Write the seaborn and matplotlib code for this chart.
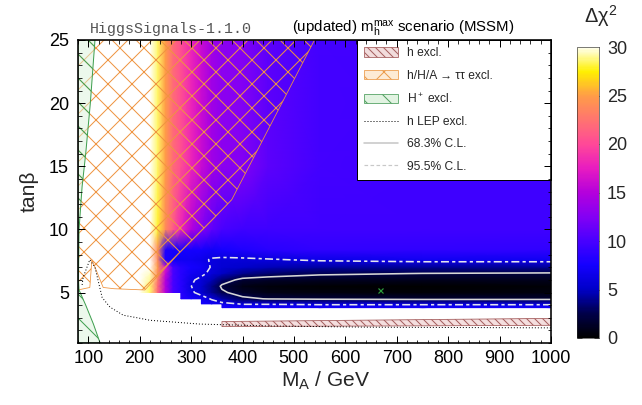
import numpy as np
import matplotlib
matplotlib.use("Agg")
import matplotlib.pyplot as plt
import matplotlib.patches as mpatches
from matplotlib.lines import Line2D
from matplotlib.ticker import MultipleLocator
import seaborn as sns

nan = np.nan
off = 45.0  # above the colour range (drawn white)

# scan grid: M_A (GeV) columns, tan(beta) rows
ma_grid = [80, 150, 200, 220, 235, 250, 265, 280, 300, 320, 340, 360, 400, 450, 550, 750, 1000]
tb_grid = [1.0, 3.5, 3.8, 4.1, 4.5, 5.0, 5.5, 6.0, 6.5, 7.0, 7.6, 8.4, 10.0, 15.0, 25.0]

# delta chi^2, one row per tan(beta)
chi2_rows = [
    [nan] * 17,
    [nan] * 17,
    [nan] * 11 + [7.5, 7.5, 7.5, 7.5, 7.5, 7.5],
    [nan] * 9 + [7.5, 7.0, 6.8, 6.0, 6.0, 5.8, 5.8, 5.8],
    [nan] * 7 + [8.5, 7.5, 7.0, 6.0, 4.5, 2.7, 2.2, 2.0, 1.8, 1.8],
    [off, off, off, 28.5, 22, 15, 10, 8.5, 6.5, 5.5, 4.0, 2.6, 1.5, 0.8, 0.5, 0.3, 0.5],
    [off, off, off, 28.5, 22, 15, 10, 8.5, 6.2, 5.5, 3.8, 2.0, 0.8, 0.4, 0.2, 0.0, 0.3],
    [off, off, off, 29, 23, 15, 10, 8.5, 6.4, 5.8, 4.8, 3.2, 1.8, 1.5, 1.2, 1.0, 1.0],
    [off, off, off, 29.5, 24, 16, 10, 8.5, 7.0, 6.5, 5.8, 5.0, 3.8, 3.2, 2.6, 2.25, 2.1],
    [off, off, off, 30.5, 25, 17, 10, 8.5, 7.5, 7.2, 6.0, 5.6, 5.2, 4.8, 4.3, 4.0, 4.0],
    [off, off, off, 32, 24, 8.0, 7.2, 7.0, 7.0, 6.6, 6.0, 5.8, 5.8, 6.0, 6.5, 7.0, 7.0],
    [off, off, off, 33, 24, 8.0, 7.5, 7.5, 7.5, 7.5, 7.2, 7.5, 8.0, 8.5, 8.8, 8.8, 8.8],
    [off, off, off, 31.5, 28, 24, 21, 18, 15, 12.5, 11, 10, 9.5, 9.5, 9.5, 9.5, 9.5],
    [off, off, 34, 31, 28.5, 25, 22, 20.5, 18, 16, 14, 13, 12.5, 10.8, 9.8, 9.5, 9.5],
    [off, off, 34, 31, 28.5, 25, 22, 20.5, 18, 16, 14, 13, 12.5, 10.8, 9.8, 9.5, 9.5],
]

# excluded regions (outlines)
tautau_ma = [80, 540, 460, 379, 340, 274, 210, 150, 129, 107, 103, 80]
tautau_tb = [25, 25, 18.7, 12.35, 10.7, 8.0, 5.2, 5.3, 5.4, 7.6, 5.4, 5.2]
hplus_ma = [80, 113, 104, 95, 88, 82, 81, 82, 95, 110, 123, 80]
hplus_tb = [25, 25, 20, 16, 13.4, 10, 6, 5.2, 4.0, 2.5, 1.0, 1.0]
hexcl_ma = [360, 1000, 1000, 360]
hexcl_tb = [2.3, 2.4, 2.95, 2.7]
lep_ma = [88, 90, 103, 113, 127, 142, 168, 195, 220, 317, 450, 650, 1000]
lep_tb = [5.6, 6.2, 7.6, 7.0, 4.6, 3.85, 3.2, 3.0, 2.8, 2.5, 2.35, 2.25, 2.2]
best_ma, best_tb = 667, 5.2

cl_levels = [2.30, 6.18]
cbar_ticks = [0, 5, 10, 15, 20, 25, 30]

sns.set_style("ticks")
plt.rcParams["font.family"] = ["Liberation Sans", "DejaVu Sans"]
plt.rcParams["mathtext.fontset"] = "custom"
plt.rcParams["mathtext.rm"] = "Liberation Sans"
plt.rcParams["mathtext.it"] = "Liberation Sans:italic"
plt.rcParams["hatch.linewidth"] = 1.0

palette = ["#000000", "#00004a", "#0000c8", "#1400ff", "#4800ff", "#8400f4", "#b400dc",
           "#e81cc0", "#ff4898", "#ff7470", "#ff9c48", "#fff000", "#fffff0"]
cmap = sns.blend_palette(palette, as_cmap=True).with_extremes(over="white", bad="white")

fig = plt.figure(figsize=(642 / 72, 405 / 72), dpi=72)
ax = fig.add_axes([78 / 642, 1 - 343 / 405, 473 / 642, 303 / 405])
cax = fig.add_axes([577 / 642, 1 - 338 / 405, 22 / 642, 291 / 405])

MA, TB = np.meshgrid(ma_grid, tb_grid)
chi2 = np.ma.masked_invalid(np.array(chi2_rows, dtype=float))

mesh = ax.pcolormesh(MA, TB, chi2, cmap=cmap, vmin=0, vmax=30, shading="gouraud", zorder=1)
ax.contour(MA, TB, chi2, levels=[cl_levels[0]], colors="#d6d6d6", linewidths=1.6, zorder=2)
ax.contour(MA, TB, chi2, levels=[cl_levels[1]], colors="#e4e4ee", linewidths=1.6,
           linestyles=[(0, (5, 2, 2, 2))], zorder=2)

ax.fill(tautau_ma, tautau_tb, facecolor="none", edgecolor="#ef9440", hatch="x", lw=0.8, zorder=3)
ax.fill(hplus_ma, hplus_tb, facecolor=(0.86, 0.95, 0.86, 0.5), edgecolor="#3f9f4f",
        hatch="\\", lw=1.0, zorder=3)
ax.fill(hexcl_ma, hexcl_tb, facecolor="#f4dede", edgecolor="#a55e5e", hatch="\\\\\\",
        lw=0.8, zorder=3)
ax.plot(lep_ma, lep_tb, color="black", lw=1.0, linestyle=(0, (1, 2)), zorder=4)
ax.plot(best_ma, best_tb, marker="x", color="#2e9e3e", markersize=5, mew=1.2, zorder=4)

ax.set_xlim(80, 1000)
ax.set_ylim(1, 25)
ax.xaxis.set_major_locator(MultipleLocator(100))
ax.xaxis.set_minor_locator(MultipleLocator(20))
ax.yaxis.set_major_locator(MultipleLocator(5))
ax.yaxis.set_minor_locator(MultipleLocator(1))
ax.tick_params(which="both", direction="in", top=True, right=True, colors="black",
               labelsize=18)
ax.tick_params(which="major", length=7, width=1.0)
ax.tick_params(which="minor", length=3.5, width=0.8)
ax.tick_params(axis="x", pad=7)
ax.tick_params(axis="y", pad=9)
for sp in ax.spines.values():
    sp.set_linewidth(1.6)
    sp.set_color("black")
    sp.set_zorder(10)
ax.xaxis.set_zorder(10)
ax.yaxis.set_zorder(10)

ax.set_xlabel(r"M$_\mathrm{A}$ / GeV", fontsize=21)
ax.xaxis.set_label_coords((326 - 78) / 473, -(370 - 343) / 303)
ax.set_ylabel("tanβ", fontsize=21, labelpad=10)

fig.text(90 / 642, 1 - 29 / 405, "HiggsSignals-1.1.0", family="Liberation Mono",
         fontsize=15, color="#555555", va="center", ha="left")
fig.text(292 / 642, 1 - 29 / 405, r"(updated) m$_\mathrm{h}^\mathrm{max}$ scenario (MSSM)",
         fontsize=15, color="black", va="center", ha="left")

cb = fig.colorbar(mesh, cax=cax, ticks=cbar_ticks)
cb.outline.set_linewidth(0.6)
cax.tick_params(direction="in", left=True, right=True, length=5, width=0.8,
                color="#222222", labelsize=18, pad=8)
fig.text(601 / 642, 1 - 16 / 405, r"Δχ$^2$", fontsize=20, ha="center", va="center")

handles = [
    mpatches.Patch(facecolor="#f2dcdc", edgecolor="#a55e5e", hatch="\\\\\\", lw=0.8),
    mpatches.Patch(facecolor="#fdebd5", edgecolor="#ec9c4c", hatch="x", lw=0.8),
    mpatches.Patch(facecolor="#e2f3e2", edgecolor="#4f9f5f", hatch="\\", lw=0.8),
    Line2D([], [], color="black", lw=1.0, linestyle=(0, (1, 2))),
    Line2D([], [], color="#c8c8c8", lw=1.6),
    Line2D([], [], color="#c8c8c8", lw=1.2, linestyle=(0, (3, 2))),
]
labels = ["h excl.", "h/H/A → ττ excl.", r"H$^+$ excl.", "h LEP excl.", "68.3% C.L.", "95.5% C.L."]
leg = ax.legend(handles, labels, loc="upper left", mode="expand",
                bbox_to_anchor=((357 - 78) / 473, 0, (551 - 357) / 473, 1.0),
                borderaxespad=0, fontsize=12, frameon=True, fancybox=False,
                framealpha=1, edgecolor="black", handlelength=2.8, handleheight=0.8,
                handletextpad=0.8, labelspacing=0.86, borderpad=0.6)
leg.get_frame().set_linewidth(1.0)
leg.set_zorder(8)

fig.savefig("out.png", dpi=72)
